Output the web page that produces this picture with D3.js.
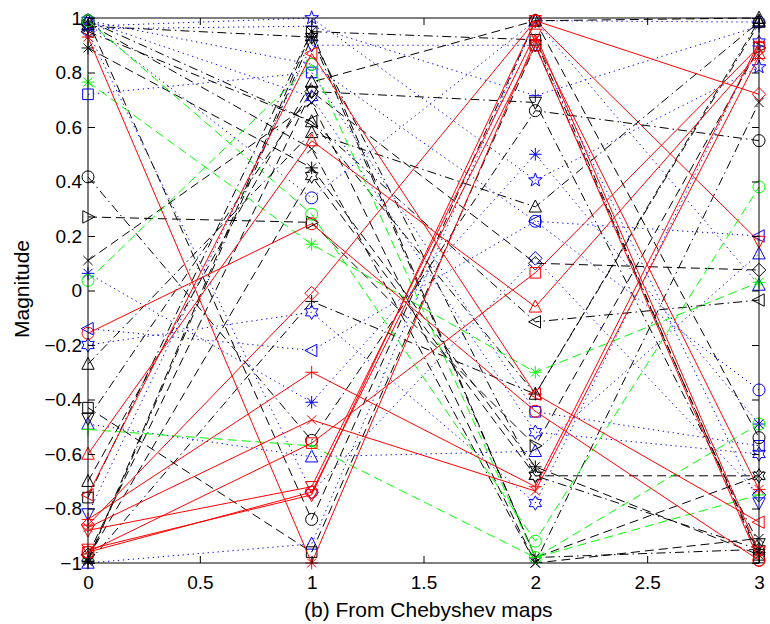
<!DOCTYPE html>
<html>
<head>
<meta charset="utf-8">
<script src="https://cdn.jsdelivr.net/npm/d3@7"></script>
<style>
  html, body { margin: 0; padding: 0; background: #fff; }
  svg { display: block; font-family: "Liberation Sans", Arial, Helvetica, sans-serif; }
</style>
</head>
<body>
<svg id="chart" width="770" height="624"></svg>
<script>
// ---------- data ----------
const xValues = [0, 1, 2, 3];
const xTicks = [0, 0.5, 1, 1.5, 2, 2.5, 3];
const yTicks = [-1, -0.8, -0.6, -0.4, -0.2, 0, 0.2, 0.4, 0.6, 0.8, 1];
const xLabel = "(b) From Chebyshev maps";
const yLabel = "Magnitude";

// blue dotted series
const blueValues = [
  [0.97, 1.0, 0.405, 0.82],
  [0.99, 0.71, -0.52, -0.60],
  [0.95, -0.74, 0.118, -0.75],
  [0.72, 0.80, -0.445, -0.57],
  [0.063, -0.41, 0.50, -0.49],
  [-0.14, -0.22, 0.254, 0.20],
  [-0.20, -0.08, -0.78, 0.91],
  [-0.49, -0.61, -0.59, 0.135],
  [-0.82, 0.90, 0.90, -0.78],
  [-1.0, -0.93, 0.99, 0.02],
  [0.99, 0.83, 0.254, -0.365],
  [0.98, 0.34, 0.99, 0.985],
  [0.96, 0.97, 0.715, 0.97]
];
const blueMarkers = ["p", "h", "d", "s", "*", "<", "h", "^", "v", "^", "o", "o", "+"];

// black dashed / dash-dot series
const blackValues = [
  [0.27, 0.25, -0.57, 0.89],
  [0.417, -0.55, 0.66, 0.55],
  [0.11, 0.69, -1.0, -0.91],
  [-0.27, 0.58, 0.307, 0.985],
  [-0.43, -0.96, 0.90, -0.97],
  [-0.47, 0.73, 0.69, -0.93],
  [-0.70, 0.765, 0.99, 1.0],
  [-0.76, 0.95, 0.92, -0.98],
  [0.89, 0.45, -0.647, -0.97],
  [-0.995, 0.93, -0.98, -0.95],
  [0.99, -0.84, 0.99, -0.54],
  [0.98, 0.52, -1.0, 0.69],
  [-0.98, 0.42, -0.68, -0.68],
  [-1.0, -0.04, -0.38, 0.98],
  [-0.97, 0.73, 0.10, 0.075],
  [0.95, 0.62, -0.115, -0.035],
  [-0.99, 0.95, -0.98, -0.68],
  [0.99, 0.62, -0.38, 0.99],
  [0.97, 0.93, -0.68, -0.95]
];
const blackMarkers = [">", "o", "x", "^", "s", "v", "^", "s", "*", "*", "o", "x", "h", "+", "d", "<", "x", "^", "h"];
const blackStyles = ["--", "-.", "--", "-.", "--", "-.", "--", "-.", "--", "-.", "--", "-.", "--", "-.", "--", "-.", "--", "-.", "-."];

// green dashed series
const greenValues = [
  [0.99, 0.28, -0.92, 0.38],
  [0.765, 0.17, -0.30, 0.03],
  [0.037, 0.83, -0.98, -0.49],
  [-0.51, -0.57, -0.98, -0.75]
];
const greenMarkers = ["o", "*", "o", "+"];

// red solid series
const redValues = [
  [0.93, -1.0, 0.92, -0.73],
  [-0.157, 0.245, -0.443, -0.99],
  [-0.60, 0.55, -0.06, 0.87],
  [-0.75, 0.87, -0.38, -0.85],
  [-0.86, -0.01, 0.99, 0.72],
  [-0.84, -0.30, -0.72, 0.91],
  [-0.87, -0.475, -0.736, 0.86],
  [-0.96, -0.56, 0.065, 0.895],
  [-0.88, -0.72, 0.94, -0.96],
  [-0.96, -0.74, 0.90, -0.99],
  [-0.95, -0.75, 0.99, 0.18]
];
const redMarkers = ["*", "o", "^", "<", "d", "+", "x", "s", "v", "o", "v"];

// ---------- layout ----------
const svg = d3.select("#chart");
const plot = { left: 88, right: 759, top: 18, bottom: 563 };
const x = d3.scaleLinear().domain([0, 3]).range([plot.left, plot.right]);
const y = d3.scaleLinear().domain([-1, 1]).range([plot.bottom, plot.top]);

const dashes = { "--": "9,5", "-.": "9,4,1.5,4", ":": "1.3,3.7", "-": null };

function markerPath(m) {
  const p = d3.path();
  const poly = pts => { p.moveTo(pts[0][0], pts[0][1]); pts.slice(1).forEach(q => p.lineTo(q[0], q[1])); p.closePath(); };
  const star = (n, R, r, rot) => {
    const pts = [];
    for (let i = 0; i < 2 * n; i++) {
      const a = rot + i * Math.PI / n;
      const rr = i % 2 === 0 ? R : r;
      pts.push([rr * Math.cos(a), rr * Math.sin(a)]);
    }
    poly(pts);
  };
  switch (m) {
    case "o": p.moveTo(6, 0); p.arc(0, 0, 6, 0, 2 * Math.PI); break;
    case "s": poly([[-5.3, -5.3], [5.3, -5.3], [5.3, 5.3], [-5.3, 5.3]]); break;
    case "d": poly([[0, -6.8], [6.8, 0], [0, 6.8], [-6.8, 0]]); break;
    case "^": poly([[0, -6.8], [6.2, 5.2], [-6.2, 5.2]]); break;
    case "v": poly([[0, 6.8], [6.2, -5.2], [-6.2, -5.2]]); break;
    case "<": poly([[-6.8, 0], [5.2, -6.2], [5.2, 6.2]]); break;
    case ">": poly([[6.8, 0], [-5.2, -6.2], [-5.2, 6.2]]); break;
    case "x": p.moveTo(-4.6, -4.6); p.lineTo(4.6, 4.6); p.moveTo(-4.6, 4.6); p.lineTo(4.6, -4.6); break;
    case "+": p.moveTo(-6.3, 0); p.lineTo(6.3, 0); p.moveTo(0, -6.3); p.lineTo(0, 6.3); break;
    case "*": p.moveTo(-6.3, 0); p.lineTo(6.3, 0); p.moveTo(0, -6.3); p.lineTo(0, 6.3);
              p.moveTo(-4.5, -4.5); p.lineTo(4.5, 4.5); p.moveTo(-4.5, 4.5); p.lineTo(4.5, -4.5); break;
    case "p": star(5, 7.2, 2.9, -Math.PI / 2); break;
    case "h": star(6, 7.2, 4.1, -Math.PI / 2); break;
  }
  return p.toString();
}

const line = d3.line().x((d, i) => x(xValues[i])).y(d => y(d));

function drawGroup(values, markers, color, styleFn) {
  const g = svg.append("g");
  values.forEach((vals, k) => {
    const st = styleFn(k);
    g.append("path")
      .attr("d", line(vals))
      .attr("fill", "none")
      .attr("stroke", color)
      .attr("stroke-width", 1)
      .attr("stroke-dasharray", dashes[st]);
    vals.forEach((v, i) => {
      g.append("path")
        .attr("transform", `translate(${x(xValues[i])},${y(v)})`)
        .attr("d", markerPath(markers[k]))
        .attr("fill", "none")
        .attr("stroke", color)
        .attr("stroke-width", 1);
    });
  });
}

svg.append("rect")
  .attr("x", plot.left).attr("y", plot.top)
  .attr("width", plot.right - plot.left).attr("height", plot.bottom - plot.top)
  .attr("fill", "#fff");

drawGroup(blueValues, blueMarkers, "#0000ff", () => ":");
drawGroup(blackValues, blackMarkers, "#000000", k => blackStyles[k]);
drawGroup(greenValues, greenMarkers, "#00ff00", () => "--");
drawGroup(redValues, redMarkers, "#ff0000", () => "-");

const axes = svg.append("g");
axes.append("rect")
  .attr("x", plot.left).attr("y", plot.top)
  .attr("width", plot.right - plot.left).attr("height", plot.bottom - plot.top)
  .attr("fill", "none").attr("stroke", "#000").attr("stroke-width", 1);

const tickLen = 7;
const fmt = v => (v < 0 ? "\u2212" : "") + String(Math.abs(Math.round(v * 10) / 10));

const xAxisG = axes.append("g").attr("transform", `translate(0,${plot.bottom})`)
  .call(d3.axisBottom(x).tickValues(xTicks).tickSize(-tickLen).tickPadding(13).tickFormat(fmt));
const xAxisTop = axes.append("g").attr("transform", `translate(0,${plot.top})`)
  .call(d3.axisTop(x).tickValues(xTicks).tickSize(-tickLen).tickFormat(""));
const yAxisG = axes.append("g").attr("transform", `translate(${plot.left},0)`)
  .call(d3.axisLeft(y).tickValues(yTicks).tickSize(-tickLen).tickPadding(6).tickFormat(fmt));
const yAxisR = axes.append("g").attr("transform", `translate(${plot.right},0)`)
  .call(d3.axisRight(y).tickValues(yTicks).tickSize(-tickLen).tickFormat(""));

[xAxisG, xAxisTop, yAxisG, yAxisR].forEach(g => {
  g.select(".domain").remove();
  g.selectAll("line").attr("stroke", "#000");
  g.selectAll("text").attr("fill", "#000").attr("font-size", 19)
    .attr("font-family", "'Liberation Sans', Arial, sans-serif");
});

svg.append("text")
  .attr("x", 304).attr("y", 617)
  .attr("text-anchor", "start").attr("font-size", 21).attr("fill", "#000")
  .text(xLabel);

svg.append("text")
  .attr("transform", `translate(29,289) rotate(-90)`)
  .attr("text-anchor", "middle").attr("font-size", 21).attr("fill", "#000")
  .text(yLabel);
</script>
</body>
</html>
